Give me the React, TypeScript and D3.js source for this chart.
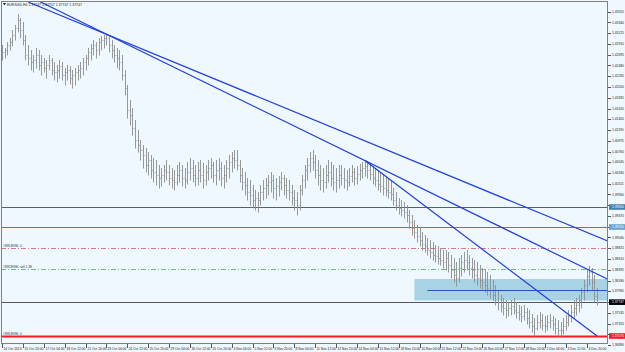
import React, { useRef, useEffect } from 'react';
import * as d3 from 'd3';

// header
const symbol = 'EURSGD,H4';
const quote = ['1.37747', '1.37757', '1.37747', '1.37747'];

// H4 bars, open = previous close
const firstOpen = 1.4265;
const highs = [
  1.4289, 1.4283, 1.4295, 1.4303, 1.4319, 1.4329, 1.4351, 1.4343, 1.4335, 1.4309,
  1.4289, 1.4279, 1.4269, 1.4283, 1.4279, 1.4269, 1.4263, 1.4259, 1.4269, 1.4263,
  1.4255, 1.4249, 1.4259, 1.4255, 1.4243, 1.4249, 1.4247, 1.4239, 1.4243, 1.4249,
  1.4255, 1.4263, 1.4269, 1.4283, 1.4291, 1.4299, 1.4295, 1.4303, 1.4307, 1.4309,
  1.4311, 1.4307, 1.4299, 1.4289, 1.4283, 1.4279, 1.4269, 1.4239, 1.4209, 1.4179,
  1.4163, 1.4139, 1.4119, 1.4099, 1.4089, 1.4083, 1.4075, 1.4069, 1.4063, 1.4059,
  1.4049, 1.4043, 1.4049, 1.4059, 1.4049, 1.4043, 1.4039, 1.4049, 1.4055, 1.4049,
  1.4043, 1.4055, 1.4063, 1.4059, 1.4049, 1.4055, 1.4059, 1.4053, 1.4049, 1.4059,
  1.4063, 1.4055, 1.4059, 1.4063, 1.4055, 1.4049, 1.4059, 1.4069, 1.4075, 1.4079,
  1.4079, 1.4059, 1.4043, 1.4035, 1.4023, 1.4019, 1.4009, 1.3999, 1.3995, 1.4009,
  1.4019, 1.4023, 1.4029, 1.4035, 1.4029, 1.4023, 1.4027, 1.4035, 1.4029, 1.4023,
  1.4019, 1.4009, 1.3999, 1.3995, 1.4009, 1.4029, 1.4049, 1.4063, 1.4075, 1.4079,
  1.4069, 1.4059, 1.4049, 1.4043, 1.4049, 1.4059, 1.4055, 1.4049, 1.4043, 1.4049,
  1.4049, 1.4043, 1.4039, 1.4043, 1.4049, 1.4043, 1.4047, 1.4051, 1.4055, 1.4058,
  1.4055, 1.4053, 1.4047, 1.4043, 1.4039, 1.4035, 1.4029, 1.4027, 1.4023, 1.4019,
  1.4003, 1.3995, 1.3983, 1.3979, 1.3975, 1.3969, 1.3959, 1.3949, 1.3939, 1.3929,
  1.3923, 1.3915, 1.3909, 1.3903, 1.3899, 1.3895, 1.3889, 1.3887, 1.3883, 1.3879,
  1.3879, 1.3875, 1.3869, 1.3863, 1.3855, 1.3863, 1.3869, 1.3875, 1.3879, 1.3869,
  1.3863, 1.3859, 1.3855, 1.3849, 1.3843, 1.3839, 1.3835, 1.3829, 1.3819, 1.3809,
  1.3799, 1.3789, 1.3783, 1.3779, 1.3775, 1.3779, 1.3783, 1.3775, 1.3769, 1.3767,
  1.3769, 1.3763, 1.3759, 1.3751, 1.3743, 1.3749, 1.3755, 1.3751, 1.3747, 1.3749,
  1.3751, 1.3747, 1.3743, 1.3739, 1.3735, 1.3743, 1.3749, 1.3759, 1.3769, 1.3779,
  1.3783, 1.3789, 1.3803, 1.3819, 1.3839, 1.3847, 1.3843, 1.3829, 1.3803,
];
const lows = [
  1.4259, 1.4263, 1.4269, 1.4279, 1.4287, 1.4299, 1.4315, 1.4303, 1.4289, 1.4259,
  1.4249, 1.4239, 1.4235, 1.4243, 1.4239, 1.4229, 1.4235, 1.4223, 1.4239, 1.4229,
  1.4219, 1.4215, 1.4223, 1.4219, 1.4209, 1.4219, 1.4211, 1.4203, 1.4209, 1.4219,
  1.4223, 1.4229, 1.4239, 1.4249, 1.4259, 1.4269, 1.4263, 1.4269, 1.4279, 1.4283,
  1.4289, 1.4275, 1.4263, 1.4255, 1.4243, 1.4239, 1.4219, 1.4189, 1.4143, 1.4129,
  1.4109, 1.4083, 1.4075, 1.4059, 1.4043, 1.4035, 1.4029, 1.4023, 1.4015, 1.4009,
  1.4003, 1.4007, 1.4015, 1.4019, 1.4009, 1.4003, 1.3999, 1.4009, 1.4015, 1.4007,
  1.4003, 1.4011, 1.4019, 1.4015, 1.4007, 1.4009, 1.4015, 1.4003, 1.4009, 1.4019,
  1.4023, 1.4015, 1.4009, 1.4019, 1.4007, 1.4003, 1.4015, 1.4023, 1.4035, 1.4043,
  1.4039, 1.4015, 1.3999, 1.3989, 1.3979, 1.3969, 1.3963, 1.3959, 1.3955, 1.3969,
  1.3979, 1.3983, 1.3989, 1.3995, 1.3983, 1.3979, 1.3987, 1.3999, 1.3989, 1.3983,
  1.3979, 1.3969, 1.3959, 1.3949, 1.3959, 1.3989, 1.4003, 1.4019, 1.4035, 1.4039,
  1.4023, 1.4009, 1.3999, 1.3995, 1.4003, 1.4015, 1.4007, 1.3999, 1.3995, 1.4003,
  1.4009, 1.4003, 1.3999, 1.4007, 1.4015, 1.4009, 1.4011, 1.4019, 1.4023, 1.4027,
  1.4023, 1.4019, 1.4011, 1.4007, 1.3999, 1.3995, 1.3989, 1.3987, 1.3983, 1.3979,
  1.3969, 1.3959, 1.3951, 1.3947, 1.3943, 1.3935, 1.3923, 1.3909, 1.3903, 1.3895,
  1.3887, 1.3879, 1.3875, 1.3869, 1.3863, 1.3859, 1.3855, 1.3851, 1.3849, 1.3843,
  1.3839, 1.3835, 1.3823, 1.3815, 1.3807, 1.3815, 1.3827, 1.3835, 1.3839, 1.3829,
  1.3823, 1.3815, 1.3809, 1.3803, 1.3799, 1.3795, 1.3789, 1.3783, 1.3779, 1.3769,
  1.3759, 1.3755, 1.3749, 1.3743, 1.3747, 1.3749, 1.3751, 1.3743, 1.3739, 1.3735,
  1.3739, 1.3731, 1.3723, 1.3715, 1.3707, 1.3719, 1.3723, 1.3719, 1.3715, 1.3719,
  1.3723, 1.3719, 1.3711, 1.3707, 1.3705, 1.3711, 1.3719, 1.3727, 1.3735, 1.3743,
  1.3749, 1.3755, 1.3763, 1.3779, 1.3795, 1.3809, 1.3799, 1.3775, 1.3769,
];
const closes = [
  1.4275, 1.4279, 1.4289, 1.4295, 1.4309, 1.4323, 1.4339, 1.4319, 1.4299, 1.4269,
  1.4263, 1.4255, 1.4259, 1.4269, 1.4249, 1.4255, 1.4243, 1.4249, 1.4259, 1.4239,
  1.4235, 1.4239, 1.4247, 1.4229, 1.4235, 1.4239, 1.4223, 1.4229, 1.4235, 1.4239,
  1.4243, 1.4255, 1.4263, 1.4275, 1.4283, 1.4289, 1.4279, 1.4295, 1.4299, 1.4303,
  1.4303, 1.4289, 1.4279, 1.4269, 1.4263, 1.4255, 1.4229, 1.4203, 1.4159, 1.4149,
  1.4123, 1.4099, 1.4089, 1.4079, 1.4069, 1.4049, 1.4059, 1.4039, 1.4035, 1.4029,
  1.4023, 1.4029, 1.4039, 1.4035, 1.4023, 1.4019, 1.4015, 1.4029, 1.4039, 1.4023,
  1.4019, 1.4035, 1.4043, 1.4029, 1.4023, 1.4039, 1.4029, 1.4019, 1.4035, 1.4043,
  1.4049, 1.4029, 1.4039, 1.4043, 1.4023, 1.4029, 1.4043, 1.4055, 1.4063, 1.4059,
  1.4049, 1.4029, 1.4015, 1.4009, 1.3995, 1.3989, 1.3979, 1.3983, 1.3979, 1.3995,
  1.4003, 1.4009, 1.4015, 1.4019, 1.4003, 1.4007, 1.4015, 1.4023, 1.4009, 1.3999,
  1.3995, 1.3983, 1.3979, 1.3969, 1.3999, 1.4019, 1.4039, 1.4049, 1.4063, 1.4055,
  1.4039, 1.4029, 1.4019, 1.4015, 1.4029, 1.4035, 1.4023, 1.4015, 1.4019, 1.4029,
  1.4023, 1.4019, 1.4015, 1.4027, 1.4035, 1.4023, 1.4031, 1.4039, 1.4043, 1.4047,
  1.4039, 1.4031, 1.4023, 1.4019, 1.4011, 1.4007, 1.4003, 1.3999, 1.3995, 1.3991,
  1.3979, 1.3969, 1.3963, 1.3959, 1.3955, 1.3949, 1.3935, 1.3923, 1.3915, 1.3907,
  1.3899, 1.3891, 1.3887, 1.3879, 1.3875, 1.3869, 1.3867, 1.3863, 1.3859, 1.3855,
  1.3863, 1.3849, 1.3839, 1.3829, 1.3823, 1.3843, 1.3855, 1.3859, 1.3855, 1.3843,
  1.3839, 1.3829, 1.3823, 1.3819, 1.3815, 1.3809, 1.3803, 1.3799, 1.3789, 1.3779,
  1.3775, 1.3767, 1.3763, 1.3759, 1.3763, 1.3767, 1.3759, 1.3755, 1.3751, 1.3747,
  1.3755, 1.3743, 1.3735, 1.3727, 1.3723, 1.3735, 1.3739, 1.3729, 1.3727, 1.3735,
  1.3739, 1.3731, 1.3723, 1.3719, 1.3719, 1.3727, 1.3735, 1.3747, 1.3755, 1.3763,
  1.3769, 1.3779, 1.3795, 1.3809, 1.3827, 1.3835, 1.3815, 1.3787, 1.37747,
];

// one label every 8 bars
const timeLabels = [
  '14 Oct 2013', '15 Oct 20:00', '17 Oct 04:00', '18 Oct 12:00', '21 Oct 20:00',
  '23 Oct 04:00', '24 Oct 12:00', '25 Oct 20:00', '29 Oct 04:00', '30 Oct 12:00',
  '31 Oct 20:00', '4 Nov 04:00', '5 Nov 12:00', '6 Nov 20:00', '8 Nov 04:00',
  '11 Nov 12:00', '12 Nov 20:00', '14 Nov 04:00', '15 Nov 12:00', '18 Nov 20:00',
  '20 Nov 04:00', '21 Nov 12:00', '22 Nov 20:00', '26 Nov 04:00', '27 Nov 12:00',
  '28 Nov 20:00', '2 Dec 04:00', '3 Dec 12:00', '4 Dec 20:00',
];

const priceTicks = [
  1.43555, 1.4334, 1.43125, 1.4291, 1.42695, 1.4248, 1.42265, 1.4205,
  1.41835, 1.4162, 1.41405, 1.4119, 1.40975, 1.4076, 1.40545, 1.4033,
  1.40115, 1.399, 1.39685, 1.3947, 1.39255, 1.3904, 1.38825, 1.3861,
  1.38395, 1.3818, 1.37965, 1.3775, 1.37535, 1.3732, 1.37105, 1.3689,
];

// horizontal objects
const levelPrices = [1.3965, 1.3925, 1.3883, 1.3841, 1.37747, 1.3707];
const levelNames = ['', '', '#SRLEVEL 0', '#SRLEVEL sell 1.38', '', '#SRLEVEL 0'];

// trend lines: [bar, price] pairs
const trendA = [[10, 1.4375], [200, 1.3966]];
const trendB = [[14, 1.4377], [139, 1.4058]];
const trendC = [[139, 1.4058], [228, 1.3707]];

// zone rectangle and its middle line
const zoneBars = [158, 240];
const zonePrices = [1.3821, 1.3778];
const zoneMidBars = [163, 232];
const zoneMid = 1.38;

const W = 625;
const H = 352;
const plot = { left: 1, top: 1, right: 608, bottom: 344 };
const barStep = 2.61;

const App = () => {
  const ref = useRef<SVGSVGElement>(null);

  useEffect(() => {
    const svg = d3.select(ref.current);
    svg.selectAll('*').remove();

    const n = closes.length;
    const x = d3.scaleLinear().domain([0, n - 1]).range([2, 2 + (n - 1) * barStep]);
    const y = d3.scaleLinear().domain([1.3689, 1.4379]).range([345, 0]);
    const fmt = d3.format('.5f');
    const font = '"Liberation Sans", Arial, sans-serif';

    svg.append('rect').attr('width', W).attr('height', H).attr('fill', '#F0F8FF');

    svg.append('clipPath').attr('id', 'plotclip')
      .append('rect')
      .attr('x', plot.left).attr('y', plot.top)
      .attr('width', plot.right - plot.left).attr('height', plot.bottom - plot.top);

    const g = svg.append('g').attr('clip-path', 'url(#plotclip)');

    // zone
    g.append('rect')
      .attr('x', x(zoneBars[0]))
      .attr('y', y(zonePrices[0]))
      .attr('width', x(zoneBars[1]) - x(zoneBars[0]))
      .attr('height', y(zonePrices[1]) - y(zonePrices[0]))
      .attr('fill', '#A7D3E4');

    // horizontal levels
    const levelColor = ['#4e6478', '#4682B4', '#CD5C5C', '#4CAF50', '#555555', '#FF1A1A'];
    const levelWidth = [1, 1, 0.8, 0.8, 1, 1.8];
    const levelDash = [null, null, '5,2,1,2', '5,2,1,2', null, null];
    levelPrices.forEach((p, i) => {
      const yy = Math.round(y(p)) + 0.5;
      g.append('line')
        .attr('x1', plot.left).attr('x2', plot.right)
        .attr('y1', yy).attr('y2', yy)
        .attr('stroke', levelColor[i])
        .attr('stroke-width', levelWidth[i])
        .attr('stroke-dasharray', levelDash[i]);
      if (levelNames[i]) {
        g.append('text')
          .attr('x', 3).attr('y', yy - 1.2)
          .attr('font-family', font).attr('font-size', 3.2)
          .attr('fill', '#333')
          .text(levelNames[i]);
      }
    });

    // OHLC bars
    const bars = g.append('g').attr('stroke', '#8c8c8c').attr('stroke-width', 0.9);
    closes.forEach((c, i) => {
      const o = i === 0 ? firstOpen : closes[i - 1];
      const hi = Math.max(highs[i], o, c);
      const lo = Math.min(lows[i], o, c);
      const xi = Math.round(x(i)) + 0.5;
      bars.append('line').attr('x1', xi).attr('x2', xi).attr('y1', y(hi)).attr('y2', y(lo) + 0.5);
      const yo = Math.round(y(o)) + 0.5;
      const yc = Math.round(y(c)) + 0.5;
      bars.append('line').attr('x1', xi - 0.9).attr('x2', xi).attr('y1', yo).attr('y2', yo);
      bars.append('line').attr('x1', xi).attr('x2', xi + 0.9).attr('y1', yc).attr('y2', yc);
    });

    // zone middle line
    const ym = Math.round(y(zoneMid)) + 0.5;
    g.append('line')
      .attr('x1', x(zoneMidBars[0])).attr('x2', x(zoneMidBars[1]))
      .attr('y1', ym).attr('y2', ym)
      .attr('stroke', '#2a55b0').attr('stroke-width', 1);

    // trend lines
    const drawTrend = (pts: number[][], ray: boolean) => {
      const x1 = x(pts[0][0]);
      const y1 = y(pts[0][1]);
      const x2 = x(pts[1][0]);
      const y2 = y(pts[1][1]);
      let xe = x2;
      let ye = y2;
      if (ray) {
        xe = plot.right + 2;
        ye = y1 + ((y2 - y1) / (x2 - x1)) * (xe - x1);
      }
      g.append('line')
        .attr('x1', x1).attr('y1', y1).attr('x2', xe).attr('y2', ye)
        .attr('stroke', '#1f3fdc').attr('stroke-width', 1.2);
    };
    drawTrend(trendA, true);
    drawTrend(trendB, true);
    drawTrend(trendC, false);

    // frame
    svg.append('rect')
      .attr('x', plot.left + 0.5).attr('y', plot.top + 0.5)
      .attr('width', plot.right - plot.left - 1).attr('height', plot.bottom - plot.top - 1)
      .attr('fill', 'none').attr('stroke', '#808080').attr('stroke-width', 1);

    // right price axis, labels hidden behind the price boxes are skipped
    const boxLevels = [0, 1, 4, 5];
    const boxYs = boxLevels.map((li) => y(levelPrices[li]));
    priceTicks.forEach((p) => {
      const ty = y(p);
      if (ty < 2 || ty > 349) return;
      svg.append('line')
        .attr('x1', plot.right).attr('x2', plot.right + 3)
        .attr('y1', Math.round(ty) + 0.5).attr('y2', Math.round(ty) + 0.5)
        .attr('stroke', '#555');
      if (boxYs.some((b) => Math.abs(b - ty) < 6)) return;
      svg.append('text')
        .attr('x', plot.right + 4).attr('y', ty + 1.2)
        .attr('font-family', font).attr('font-size', 3.3)
        .attr('fill', '#222')
        .text(fmt(p));
    });

    // price boxes on axis
    const boxFill = ['#4a7fb0', '#6aa2d0', '#000000', '#FF1A1A'];
    boxLevels.forEach((li, k) => {
      const by = y(levelPrices[li]);
      svg.append('rect')
        .attr('x', plot.right + 1).attr('y', by - 2.8)
        .attr('width', W - plot.right - 1).attr('height', 5.6)
        .attr('fill', boxFill[k]);
      svg.append('text')
        .attr('x', plot.right + 4).attr('y', by + 1.2)
        .attr('font-family', font).attr('font-size', 3.3)
        .attr('fill', '#fff')
        .text(fmt(levelPrices[li]));
    });

    // time axis
    timeLabels.forEach((t, k) => {
      const lx = Math.round(x(k * 8)) + 0.5;
      svg.append('line')
        .attr('x1', lx).attr('x2', lx)
        .attr('y1', plot.bottom).attr('y2', plot.bottom + 4)
        .attr('stroke', '#555');
      svg.append('text')
        .attr('x', lx + 1).attr('y', plot.bottom + 6)
        .attr('font-family', font).attr('font-size', 3.3)
        .attr('fill', '#222')
        .text(t);
    });

    // header
    svg.append('path').attr('d', 'M3,3 L6,3 L4.5,5.5 Z').attr('fill', '#222');
    svg.append('text')
      .attr('x', 7).attr('y', 6)
      .attr('font-family', font).attr('font-size', 3.5)
      .attr('fill', '#222')
      .text(`${symbol}  ${quote.join(' ')}`);
  }, []);

  return (
    <svg
      ref={ref}
      width={W}
      height={H}
      style={{ position: 'absolute', left: 0, top: 0, display: 'block' }}
    />
  );
};

export default App;
